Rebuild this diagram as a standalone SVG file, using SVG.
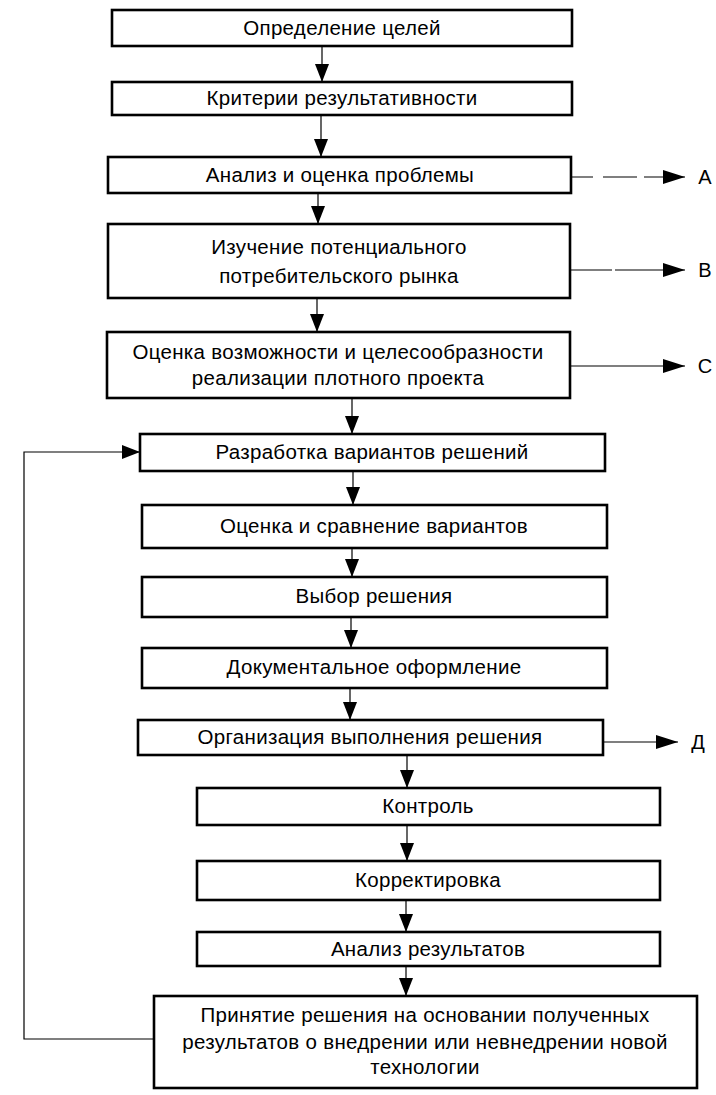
<svg xmlns="http://www.w3.org/2000/svg" width="716" height="1095" viewBox="0 0 716 1095">
<style>
.box{fill:#fff;stroke:#000;stroke-width:2.6}
.t{font-family:"Liberation Sans",Arial,sans-serif;font-size:20.5px;letter-spacing:0.3px;fill:#000;text-anchor:middle}
.lbl{font-family:"Liberation Sans",Arial,sans-serif;font-size:20px;fill:#000;text-anchor:middle}
.c{fill:none;stroke:#000;stroke-width:1.2}
</style>
<defs>
<marker id="ah" markerUnits="userSpaceOnUse" markerWidth="20" markerHeight="14" refX="18" refY="7" orient="auto">
<path d="M0,0 L18,7 L0,14 z" fill="#000"/>
</marker>
<marker id="ahh" markerUnits="userSpaceOnUse" markerWidth="24" markerHeight="14" refX="22" refY="7" orient="auto">
<path d="M0,0 L22,7 L0,14 z" fill="#000"/>
</marker>
</defs>
<rect width="716" height="1095" fill="#fff"/>
<g id="connectors">
<line class="c" x1="322" y1="46" x2="322" y2="82" marker-end="url(#ah)"/>
<line class="c" x1="321" y1="115" x2="321" y2="157" marker-end="url(#ah)"/>
<line class="c" x1="318" y1="193" x2="318" y2="224" marker-end="url(#ah)"/>
<line class="c" x1="317" y1="298" x2="317" y2="332" marker-end="url(#ah)"/>
<line class="c" x1="352" y1="398" x2="352" y2="434" marker-end="url(#ah)"/>
<line class="c" x1="353" y1="471" x2="353" y2="505" marker-end="url(#ah)"/>
<line class="c" x1="352" y1="548" x2="352" y2="577" marker-end="url(#ah)"/>
<line class="c" x1="351" y1="617" x2="351" y2="648" marker-end="url(#ah)"/>
<line class="c" x1="350" y1="688" x2="350" y2="720" marker-end="url(#ah)"/>
<line class="c" x1="407" y1="755" x2="407" y2="788" marker-end="url(#ah)"/>
<line class="c" x1="407" y1="825" x2="407" y2="861" marker-end="url(#ah)"/>
<line class="c" x1="406" y1="900" x2="406" y2="932" marker-end="url(#ah)"/>
<line class="c" x1="406" y1="966" x2="406" y2="996" marker-end="url(#ah)"/>
<line class="c" x1="571" y1="177" x2="685" y2="177" stroke-dasharray="22 10 34 7" marker-end="url(#ahh)"/>
<line class="c" x1="570" y1="270" x2="685" y2="270" stroke-dasharray="42 3 80" marker-end="url(#ahh)"/>
<line class="c" x1="570" y1="366" x2="685" y2="366" marker-end="url(#ahh)"/>
<line class="c" x1="603" y1="742" x2="678" y2="742" marker-end="url(#ahh)"/>
<polyline class="c" points="154,1039 24,1039 24,452 140,452" marker-end="url(#ah)"/>
</g>
<g id="n1"><rect class="box" x="112" y="10" width="460" height="36"/><text class="t" x="342" y="35">Определение целей</text></g>
<g id="n2"><rect class="box" x="112" y="82" width="460" height="33"/><text class="t" x="342" y="105">Критерии результативности</text></g>
<g id="n3"><rect class="box" x="108" y="157" width="463" height="36"/><text class="t" x="340" y="182">Анализ и оценка проблемы</text></g>
<g id="n4"><rect class="box" x="108" y="224" width="462" height="74"/><text class="t" x="339" y="254">Изучение потенциального</text><text class="t" x="339" y="283">потребительского рынка</text></g>
<g id="n5"><rect class="box" x="107" y="332" width="463" height="66"/><text class="t" x="338" y="359">Оценка возможности и целесообразности</text><text class="t" x="338" y="385">реализации плотного проекта</text></g>
<g id="n6"><rect class="box" x="140" y="434" width="465" height="37"/><text class="t" x="372" y="459">Разработка вариантов решений</text></g>
<g id="n7"><rect class="box" x="142" y="505" width="465" height="43"/><text class="t" x="374" y="533">Оценка и сравнение вариантов</text></g>
<g id="n8"><rect class="box" x="142" y="577" width="465" height="40"/><text class="t" x="374" y="603">Выбор решения</text></g>
<g id="n9"><rect class="box" x="142" y="648" width="465" height="40"/><text class="t" x="374" y="674">Документальное оформление</text></g>
<g id="n10"><rect class="box" x="138" y="720" width="465" height="35"/><text class="t" x="370" y="744">Организация выполнения решения</text></g>
<g id="n11"><rect class="box" x="197" y="788" width="463" height="37"/><text class="t" x="428" y="813">Контроль</text></g>
<g id="n12"><rect class="box" x="197" y="861" width="463" height="39"/><text class="t" x="428" y="887">Корректировка</text></g>
<g id="n13"><rect class="box" x="197" y="932" width="463" height="34"/><text class="t" x="428" y="956">Анализ результатов</text></g>
<g id="n14"><rect class="box" x="154" y="996" width="543" height="92"/><text class="t" x="425" y="1022">Принятие решения на основании полученных</text><text class="t" x="425" y="1049">результатов о внедрении или невнедрении новой</text><text class="t" x="425" y="1074">технологии</text></g>
<g id="labels">
<text class="lbl" x="705" y="184">A</text>
<text class="lbl" x="705" y="277">B</text>
<text class="lbl" x="705" y="373">C</text>
<text class="lbl" x="698" y="749">Д</text>
</g>
</svg>
